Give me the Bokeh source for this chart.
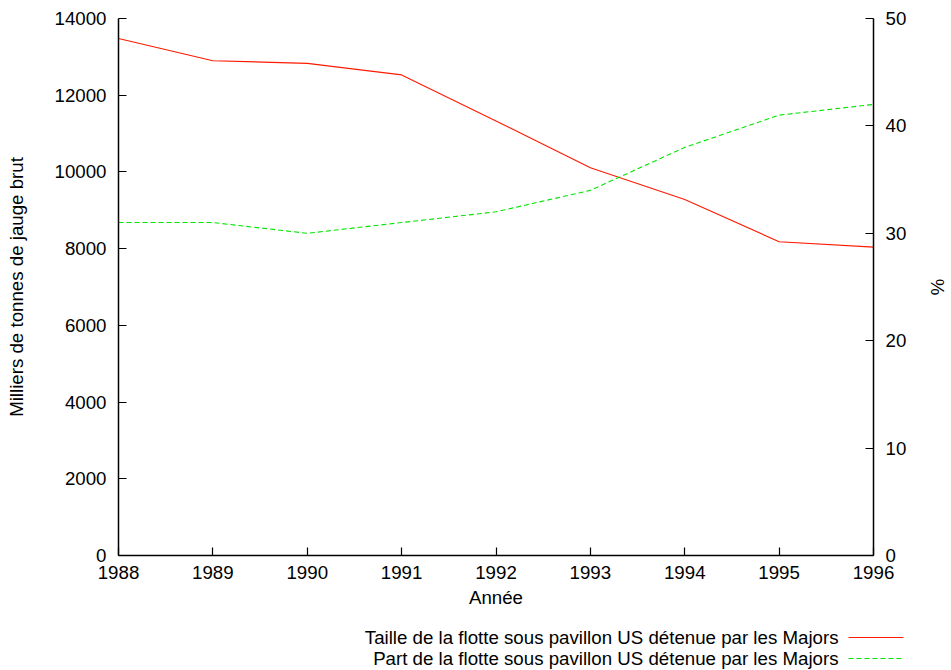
from bokeh.plotting import figure
from bokeh.layouts import column
from bokeh.models import LinearAxis, Range1d, FixedTicker, ColumnDataSource
from bokeh.core.properties import value
from bokeh.embed import file_html
from bokeh.resources import INLINE

years = [1988, 1989, 1990, 1991, 1992, 1993, 1994, 1995, 1996]
fleet_size = [13480, 12900, 12830, 12530, 11330, 10110, 9280, 8180, 8040]
share_pct = [31, 31, 30, 31, 32, 34, 38, 41, 42]
y_left_ticks = [0, 2000, 4000, 6000, 8000, 10000, 12000, 14000]
y_right_ticks = [0, 10, 20, 30, 40, 50]
series_labels = ["Taille de la flotte sous pavillon US détenue par les Majors",
                 "Part de la flotte sous pavillon US détenue par les Majors"]

FONT = "Liberation Sans"
FS = "18.7px"
RED = "#ff1a00"
GREEN = "#00e600"

p = figure(width=951, height=620, output_backend="svg", toolbar_location=None,
           x_range=Range1d(1988, 1996), y_range=Range1d(0, 14000),
           min_border_left=118, min_border_right=74, min_border_top=18, min_border_bottom=65)
p.extra_y_ranges = {"pct": Range1d(0, 50)}
p.outline_line_color = None
p.grid.visible = False
p.frame_align = False

p.line(years, fleet_size, line_color=RED, line_width=1.1)
p.line(years, share_pct, line_color=GREEN, line_width=1.1, line_dash="5 3", y_range_name="pct")

right = LinearAxis(y_range_name="pct", axis_label="%")
p.add_layout(right, "right")

p.xaxis.ticker = FixedTicker(ticks=years)
p.yaxis[0].ticker = FixedTicker(ticks=y_left_ticks)
right.ticker = FixedTicker(ticks=y_right_ticks)
p.xaxis.axis_label = "Année"
p.yaxis[0].axis_label = "Milliers de tonnes de jauge brut"

for ax in p.xaxis + p.yaxis:
    ax.major_tick_in = 8
    ax.major_tick_out = 0
    ax.minor_tick_line_color = None
    ax.axis_line_color = "black"
    ax.axis_line_width = 1.5
    ax.major_tick_line_color = "black"
    ax.major_tick_line_width = 1.2
    ax.major_label_text_font = FONT
    ax.major_label_text_font_size = FS
    ax.major_label_text_color = "black"
    ax.axis_label_text_font = FONT
    ax.axis_label_text_font_size = FS
    ax.axis_label_text_font_style = "normal"
    ax.axis_label_text_color = "black"

p.xaxis.major_label_standoff = 10
p.xaxis.axis_label_standoff = 5
p.yaxis[0].major_label_standoff = 12
p.yaxis[0].axis_label_standoff = 25
right.major_label_standoff = 12
right.axis_label_standoff = 18

# legend strip below the plot (labels on the left of the line samples, as in the reference)
leg = figure(width=951, height=50, output_backend="svg", toolbar_location=None,
             x_range=Range1d(0, 951), y_range=Range1d(50, 0),
             x_axis_type=None, y_axis_type=None, min_border=0)
leg.outline_line_color = None
leg.grid.visible = False
leg.frame_align = False
src = ColumnDataSource(dict(x=[838, 838], y=[17, 38], text=series_labels))
leg.text(x="x", y="y", text="text", source=src, text_font=value(FONT),
         text_font_size=value(FS), text_align="right", text_baseline="middle",
         text_color="black")
leg.segment(x0=[848], y0=[17], x1=[903], y1=[17], line_color=RED, line_width=1.1)
leg.segment(x0=[848], y0=[38], x1=[903], y1=[38], line_color=GREEN, line_width=1.1,
            line_dash="5 3")

layout = column(p, leg, spacing=0)
open("out.html", "w").write(file_html(layout, INLINE))
